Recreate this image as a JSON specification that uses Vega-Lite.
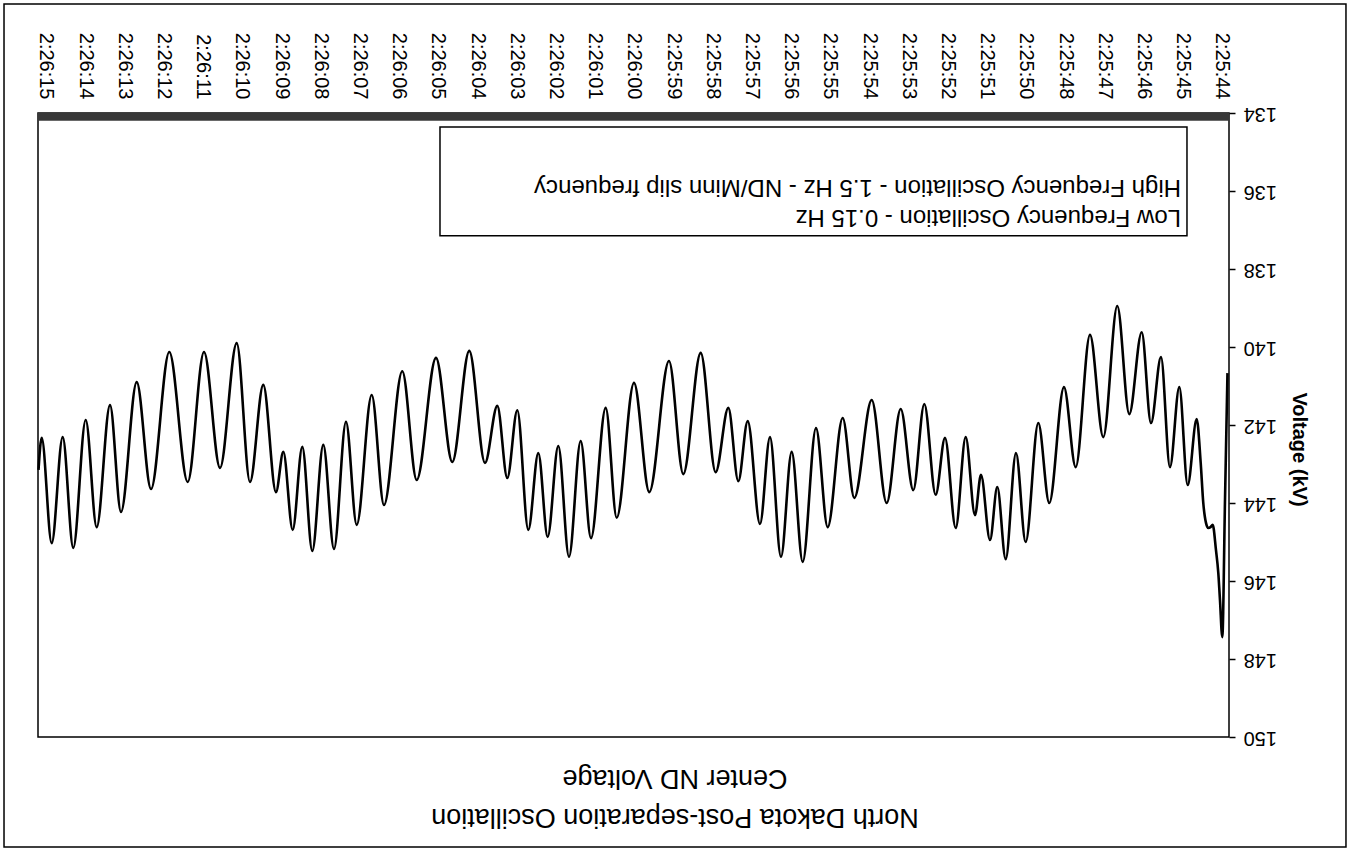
{
  "$schema": "https://vega.github.io/schema/vega-lite/v6.json",
  "width": 1191,
  "height": 624,
  "autosize": {"type": "none"},
  "padding": {"left": 38, "top": 113, "right": 127, "bottom": 115},
  "background": "white",
  "config": {
    "font": "Liberation Sans",
    "view": {"stroke": "black", "strokeWidth": 1.5},
    "axis": {"labelOverlap": false, "labelFlush": false}
  },
  "title": {
    "text": ["North Dakota Post-separation Oscillation", "Center ND Voltage"],
    "orient": "bottom",
    "anchor": "middle",
    "frame": "bounds",
    "angle": 180,
    "fontSize": 27,
    "fontWeight": "normal",
    "color": "black",
    "lineHeight": 39,
    "offset": -18
  },
  "layer": [
    {
      "data": {"values": [{"part": "frame"}]},
      "mark": {"type": "rect", "filled": false, "stroke": "black", "strokeWidth": 1.5},
      "encoding": {
        "x": {"datum": 31.071, "type": "quantitative"},
        "x2": {"datum": -3.163},
        "y": {"datum": 131.205, "type": "quantitative"},
        "y2": {"datum": 152.82}
      }
    },
    {
      "data": {"values": [{"part": "ticks"}]},
      "mark": {"type": "rect", "color": "#383838"},
      "encoding": {
        "x": {"datum": 30.204, "type": "quantitative"},
        "x2": {"datum": -0.179},
        "y": {"datum": 134, "type": "quantitative"},
        "y2": {"datum": 134.2}
      }
    },
    {
      "data": {"values": [
        {"t": 30.191, "v": 143.15}, {"t": 30.110, "v": 142.33}, {"t": 29.855, "v": 145.03}, {"t": 29.574, "v": 142.31},
        {"t": 29.304, "v": 145.15}, {"t": 28.987, "v": 141.87}, {"t": 28.707, "v": 144.62}, {"t": 28.367, "v": 141.49},
        {"t": 28.087, "v": 144.23}, {"t": 27.686, "v": 140.90}, {"t": 27.321, "v": 143.64}, {"t": 26.855, "v": 140.13},
        {"t": 26.385, "v": 143.46}, {"t": 25.969, "v": 140.13}, {"t": 25.561, "v": 143.10}, {"t": 25.135, "v": 139.90},
        {"t": 24.796, "v": 143.46}, {"t": 24.457, "v": 140.97}, {"t": 24.133, "v": 143.72}, {"t": 23.946, "v": 142.69},
        {"t": 23.707, "v": 144.69}, {"t": 23.462, "v": 142.56}, {"t": 23.207, "v": 145.23}, {"t": 22.926, "v": 142.51},
        {"t": 22.653, "v": 145.18}, {"t": 22.347, "v": 141.92}, {"t": 22.074, "v": 144.56}, {"t": 21.691, "v": 141.23},
        {"t": 21.378, "v": 144.05}, {"t": 20.911, "v": 140.62}, {"t": 20.543, "v": 143.41}, {"t": 20.051, "v": 140.28},
        {"t": 19.635, "v": 142.95}, {"t": 19.202, "v": 140.10}, {"t": 18.801, "v": 142.97}, {"t": 18.487, "v": 141.51},
        {"t": 18.232, "v": 143.36}, {"t": 17.977, "v": 141.62}, {"t": 17.696, "v": 144.69}, {"t": 17.441, "v": 142.72},
        {"t": 17.202, "v": 144.87}, {"t": 16.931, "v": 142.54}, {"t": 16.658, "v": 145.38}, {"t": 16.360, "v": 142.41},
        {"t": 16.097, "v": 144.90}, {"t": 15.722, "v": 141.56}, {"t": 15.441, "v": 144.38}, {"t": 15.000, "v": 140.92},
        {"t": 14.610, "v": 143.72}, {"t": 14.107, "v": 140.36}, {"t": 13.742, "v": 143.26}, {"t": 13.298, "v": 140.15},
        {"t": 12.916, "v": 143.21}, {"t": 12.594, "v": 141.56}, {"t": 12.339, "v": 143.44}, {"t": 12.099, "v": 141.90},
        {"t": 11.786, "v": 144.54}, {"t": 11.531, "v": 142.31}, {"t": 11.250, "v": 145.38}, {"t": 10.977, "v": 142.69},
        {"t": 10.696, "v": 145.51}, {"t": 10.357, "v": 142.08}, {"t": 10.059, "v": 144.62}, {"t": 9.676, "v": 141.82},
        {"t": 9.380, "v": 143.87}, {"t": 8.936, "v": 141.36}, {"t": 8.554, "v": 144.00}, {"t": 8.196, "v": 141.59},
        {"t": 7.875, "v": 143.67}, {"t": 7.594, "v": 141.46}, {"t": 7.304, "v": 143.79}, {"t": 7.066, "v": 142.33},
        {"t": 6.793, "v": 144.64}, {"t": 6.538, "v": 142.31}, {"t": 6.301, "v": 144.31}, {"t": 6.148, "v": 143.28},
        {"t": 5.918, "v": 144.95}, {"t": 5.732, "v": 143.59}, {"t": 5.518, "v": 145.44}, {"t": 5.255, "v": 142.72},
        {"t": 5.008, "v": 145.00}, {"t": 4.686, "v": 141.95}, {"t": 4.406, "v": 144.00}, {"t": 4.031, "v": 141.03},
        {"t": 3.732, "v": 143.08}, {"t": 3.367, "v": 139.69}, {"t": 3.028, "v": 142.31}, {"t": 2.671, "v": 138.95},
        {"t": 2.365, "v": 141.72}, {"t": 2.048, "v": 139.62}, {"t": 1.811, "v": 141.95}, {"t": 1.556, "v": 140.26},
        {"t": 1.327, "v": 143.08}, {"t": 1.089, "v": 141.03}, {"t": 0.875, "v": 143.54}, {"t": 0.645, "v": 141.85},
        {"t": 0.543, "v": 142.97}, {"t": 0.477, "v": 144.00}, {"t": 0.408, "v": 144.51}, {"t": 0.349, "v": 144.64},
        {"t": 0.293, "v": 144.62}, {"t": 0.237, "v": 144.56}, {"t": 0.153, "v": 145.21}, {"t": 0.094, "v": 145.79},
        {"t": 0.051, "v": 146.49}, {"t": -0.008, "v": 147.44}, {"t": -0.077, "v": 143.92}, {"t": -0.140, "v": 140.67}
      ]},
      "mark": {"type": "line", "color": "black", "strokeWidth": 2.6, "interpolate": "monotone"},
      "encoding": {
        "x": {
          "field": "t",
          "type": "quantitative",
          "scale": {"domain": [-0.179, 30.204], "reverse": true, "nice": false, "zero": false},
          "axis": {
            "orient": "top",
            "title": null,
            "values": [0,1,2,3,4,5,6,7,8,9,10,11,12,13,14,15,16,17,18,19,20,21,22,23,24,25,26,27,28,29,30],
            "tickCount": 50,
            "labelExpr": "['2:25:44','2:25:45','2:25:46','2:25:47','2:25:48','2:25:50','2:25:51','2:25:52','2:25:53','2:25:54','2:25:55','2:25:56','2:25:57','2:25:58','2:25:59','2:26:00','2:26:01','2:26:02','2:26:03','2:26:04','2:26:05','2:26:06','2:26:07','2:26:08','2:26:09','2:26:10','2:26:11','2:26:12','2:26:13','2:26:14','2:26:15'][datum.value]",
            "labelAngle": 90,
            "labelAlign": "right",
            "labelBaseline": "middle",
            "labelFontSize": 20,
            "labelColor": "black",
            "labelPadding": 14,
            "ticks": false,
            "domain": false,
            "grid": false,
            "labelOverlap": false,
            "labelFlush": false,
            "labelBound": false
          }
        },
        "y": {
          "field": "v",
          "type": "quantitative",
          "scale": {"domain": [134, 150], "reverse": true, "nice": false, "zero": false},
          "axis": {
            "orient": "right",
            "title": "Voltage (kV)",
            "values": [134, 136, 138, 140, 142, 144, 146, 148, 150],
            "tickCount": 20,
            "format": "d",
            "labelAngle": 180,
            "labelAlign": "right",
            "labelBaseline": "middle",
            "labelFontSize": 20,
            "labelColor": "black",
            "labelPadding": 8,
            "tickSize": 6,
            "tickColor": "black",
            "tickWidth": 1.5,
            "domain": false,
            "grid": false,
            "labelOverlap": false,
            "labelFlush": false,
            "titleFontSize": 20,
            "titleFontWeight": "bold",
            "titleColor": "black",
            "titlePadding": 12,
            "titleY": 336
          }
        }
      }
    },
    {
      "data": {"values": [{"part": "legend"}]},
      "mark": {"type": "rect", "fill": "white", "stroke": "black", "strokeWidth": 1.5},
      "encoding": {
        "x": {"datum": 19.949, "type": "quantitative"},
        "x2": {"datum": 0.893},
        "y": {"datum": 134.36, "type": "quantitative"},
        "y2": {"datum": 137.15}
      }
    },
    {
      "data": {"values": [{"label": "Low Frequency Oscillation - 0.15 Hz"}]},
      "mark": {"type": "text", "angle": 180, "align": "left", "baseline": "middle", "fontSize": 24, "color": "black"},
      "encoding": {
        "x": {"datum": 1.046, "type": "quantitative"},
        "y": {"datum": 136.66, "type": "quantitative"},
        "text": {"field": "label", "type": "nominal"}
      }
    },
    {
      "data": {"values": [{"label": "High Frequency Oscillation - 1.5 Hz - ND/Minn slip frequency"}]},
      "mark": {"type": "text", "angle": 180, "align": "left", "baseline": "middle", "fontSize": 24, "color": "black"},
      "encoding": {
        "x": {"datum": 1.046, "type": "quantitative"},
        "y": {"datum": 135.89, "type": "quantitative"},
        "text": {"field": "label", "type": "nominal"}
      }
    }
  ]
}
